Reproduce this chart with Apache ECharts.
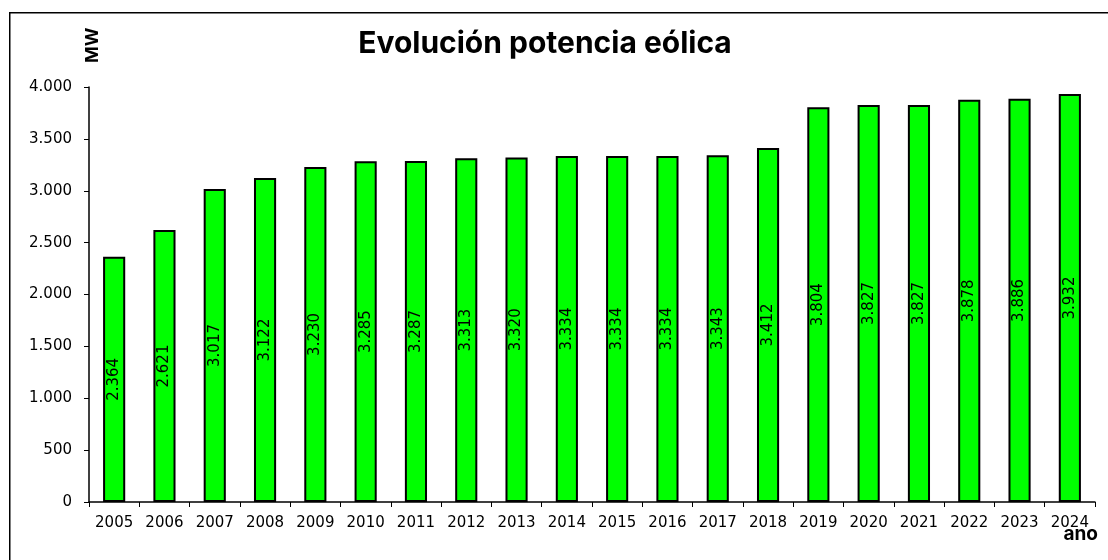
<!DOCTYPE html>
<html>
<head>
<meta charset="utf-8">
<script src="https://cdn.jsdelivr.net/npm/echarts@6/dist/echarts.min.js"></script>
<style>
  html, body { margin: 0; padding: 0; background: #fff; }
  #chart { width: 1108px; height: 560px; }
</style>
</head>
<body>
<div id="chart"></div>
<script>
const years = ['2005', '2006', '2007', '2008', '2009', '2010', '2011', '2012', '2013', '2014',
    '2015', '2016', '2017', '2018', '2019', '2020', '2021', '2022', '2023', '2024'];
const potencia = [2364, 2621, 3017, 3122, 3230, 3285, 3287, 3313, 3320, 3334,
    3334, 3334, 3343, 3412, 3804, 3827, 3827, 3878, 3886, 3932];
const titulo = 'Evolución potencia eólica';

// 3932 -> "3.932"
const fmt = (v) => String(v).replace(/\B(?=(\d{3})+(?!\d))/g, '.');

const font = 'DejaVu Sans';
const boldFont = 'Inter';

echarts.init(document.getElementById('chart')).setOption({
    animation: false,
    backgroundColor: '#fff',
    title: [{
        text: titulo,
        left: 540,
        top: 24,
        textAlign: 'center',
        textStyle: { fontFamily: boldFont, fontWeight: 'bold', fontSize: 30, color: '#000' }
    }, {
        text: 'ano',
        right: 5,
        top: 520,
        textStyle: { fontFamily: boldFont, fontWeight: 'bold', fontSize: 19, color: '#000' }
    }],
    graphic: [{
        type: 'rect',
        left: 9,
        top: 12,
        shape: { width: 1200, height: 700 },
        style: { fill: 'transparent', stroke: '#000', lineWidth: 1.5 },
        silent: true
    }],
    grid: { left: 89, right: 13, top: 87, bottom: 58 },
    xAxis: {
        type: 'category',
        data: years,
        axisLine: { lineStyle: { color: '#000', width: 1.5 } },
        axisTick: { show: true, length: 5, lineStyle: { color: '#000' } },
        axisLabel: { color: '#000', fontFamily: font, fontSize: 15, margin: 14 }
    },
    yAxis: {
        type: 'value',
        min: 0,
        max: 4000,
        interval: 500,
        name: 'MW',
        nameLocation: 'end',
        nameRotate: 90,
        nameGap: 24,
        nameTextStyle: { fontFamily: boldFont, fontWeight: 'bold', fontSize: 18, color: '#000', align: 'left', verticalAlign: 'bottom', padding: [0, 0, -13, 0] },
        axisLine: { show: true, lineStyle: { color: '#000', width: 1.5 } },
        axisTick: { show: true, length: 5, lineStyle: { color: '#000' } },
        splitLine: { show: false },
        axisLabel: { color: '#000', fontFamily: font, fontSize: 15, margin: 17, formatter: fmt }
    },
    series: [{
        type: 'bar',
        data: potencia,
        barWidth: '44%',
        itemStyle: { color: '#00ff00', borderColor: '#000', borderWidth: 2 },
        label: {
            show: true,
            position: 'inside',
            rotate: 90,
            color: '#000',
            fontFamily: font,
            fontSize: 15,
            formatter: (p) => fmt(p.value)
        }
    }]
});
</script>
</body>
</html>
